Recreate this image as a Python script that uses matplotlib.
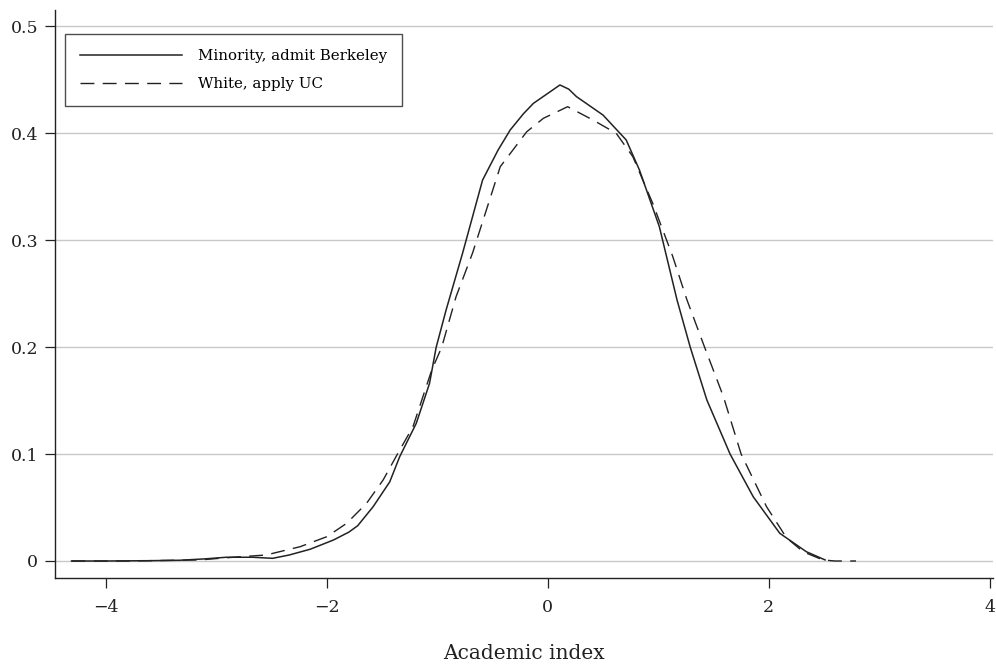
import matplotlib
matplotlib.use("Agg")
import matplotlib.pyplot as plt

# density estimates
minority_x = [-4.31, -4.0, -3.6, -3.33, -3.1, -2.91, -2.67, -2.49, -2.34, -2.15,
              -1.94, -1.80, -1.72, -1.58, -1.43, -1.34, -1.19, -1.07, -1.01, -0.92,
              -0.77, -0.59, -0.45, -0.34, -0.22, -0.13, 0.0, 0.11, 0.19, 0.26,
              0.5, 0.71, 0.83, 1.01, 1.17, 1.29, 1.44, 1.65, 1.86, 2.10, 2.34, 2.51]
minority_y = [0.0, 0.0, 0.0003, 0.0007, 0.002, 0.0035, 0.0035, 0.0025, 0.0056, 0.011,
              0.0196, 0.027, 0.033, 0.0508, 0.074, 0.0975, 0.1287, 0.166, 0.1997, 0.2346,
              0.288, 0.356, 0.384, 0.4028, 0.418, 0.4277, 0.437, 0.4449, 0.441, 0.434,
              0.4168, 0.3935, 0.3654, 0.3125, 0.244, 0.1997, 0.1505, 0.100, 0.060, 0.0259,
              0.0087, 0.001]

white_x = [-4.31, -3.8, -3.15, -2.85, -2.55, -2.24, -2.0, -1.82, -1.64, -1.49,
           -1.36, -1.22, -1.05, -0.96, -0.83, -0.68, -0.43, -0.19, -0.04, 0.18,
           0.41, 0.62, 0.77, 0.95, 1.13, 1.26, 1.42, 1.59, 1.75, 1.98,
           2.16, 2.31, 2.49, 2.6, 2.79]
white_y = [0.0, 0.0, 0.001, 0.0035, 0.0056, 0.0134, 0.0227, 0.0352, 0.0539, 0.0757,
           0.100, 0.1255, 0.1785, 0.1997, 0.247, 0.288, 0.3685, 0.4012, 0.4137, 0.4246,
           0.4121, 0.3997, 0.3779, 0.3343, 0.285, 0.244, 0.1997, 0.1536, 0.100, 0.0508,
           0.0218, 0.0087, 0.001, 0.0, 0.0]

x_ticks = [-4, -2, 0, 2, 4]
y_ticks = [0, 0.1, 0.2, 0.3, 0.4, 0.5]
y_labels = ["0", "0.1", "0.2", "0.3", "0.4", "0.5"]

plt.rcParams["font.family"] = ["DejaVu Serif"]

fig = plt.figure(figsize=(9.96, 6.64), dpi=100)
ax = fig.add_axes([0.0552, 0.1295, 0.9418, 0.8555])

ax.plot(minority_x, minority_y, color="#222222", lw=1.1, label="Minority, admit Berkeley")
ax.plot(white_x, white_y, color="#222222", lw=1.0, dashes=(10, 6), label="White, apply UC")

ax.set_xlim(-4.46, 4.03)
ax.set_ylim(-0.0159, 0.515)
ax.set_xticks(x_ticks)
ax.set_yticks(y_ticks)
ax.set_yticklabels(y_labels)
ax.grid(axis="y", color="#c8c8c8", lw=1.0)
ax.set_axisbelow(True)

for side in ("top", "right"):
    ax.spines[side].set_visible(False)
for side in ("left", "bottom"):
    ax.spines[side].set_color("#222222")
    ax.spines[side].set_linewidth(1.0)

ax.tick_params(length=7, width=0.9, color="#222222", labelsize=12.5, labelcolor="#222222")
ax.tick_params(axis="x", pad=8)
ax.tick_params(axis="y", pad=5)
ax.set_xlabel("Academic index", fontsize=14.5, color="#222222", labelpad=20)

leg = ax.legend(loc="upper left", bbox_to_anchor=(0.0105, 0.958), fontsize=10.8,
                handlelength=6.8, handletextpad=1.1, borderpad=1.0, labelspacing=0.95,
                fancybox=False, frameon=True, borderaxespad=0)
leg.get_frame().set_edgecolor("#222222")
leg.get_frame().set_linewidth(1.0)

fig.savefig("out.png", dpi=100)
